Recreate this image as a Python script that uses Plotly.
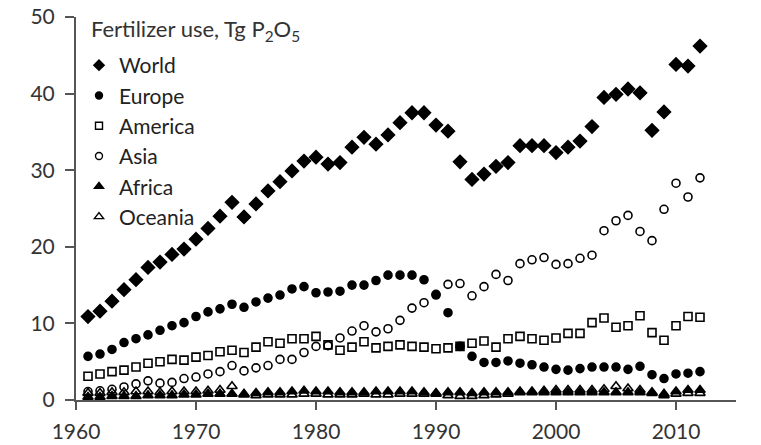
import plotly.graph_objects as go

years = list(range(1961, 2013))

world = [10.9, 11.6, 12.9, 14.4, 15.7, 17.3, 18.0, 19.0, 19.7, 21.0,
         22.4, 24.0, 25.8, 23.9, 25.6, 27.3, 28.5, 29.9, 31.2, 31.7,
         30.8, 31.0, 33.0, 34.3, 33.4, 34.6, 36.2, 37.5, 37.5, 35.9,
         35.1, 31.1, 28.8, 29.5, 30.5, 31.0, 33.2, 33.2, 33.2, 32.3,
         33.0, 33.8, 35.7, 39.5, 39.9, 40.6, 40.1, 35.2, 37.6, 43.8,
         43.6, 46.2]

europe = [5.7, 6.0, 6.6, 7.5, 8.0, 8.5, 9.1, 9.7, 10.1, 10.9,
          11.5, 11.9, 12.5, 12.1, 12.8, 13.3, 13.7, 14.5, 14.8, 14.0,
          14.1, 14.2, 15.0, 15.0, 15.6, 16.3, 16.3, 16.3, 15.7, 13.7,
          11.4, 7.0, 5.7, 4.9, 4.9, 5.1, 4.8, 4.6, 4.3, 4.0,
          3.9, 4.1, 4.3, 4.3, 4.3, 4.0, 4.4, 3.3, 2.8, 3.4,
          3.5, 3.7]

america = [3.1, 3.4, 3.7, 3.9, 4.3, 4.8, 5.0, 5.3, 5.2, 5.6,
           5.8, 6.3, 6.5, 6.2, 6.9, 7.6, 7.4, 8.0, 8.0, 8.3,
           7.2, 6.5, 6.9, 7.6, 6.8, 7.0, 7.2, 7.0, 6.9, 6.7,
           6.8, 7.0, 7.4, 7.7, 6.9, 8.0, 8.3, 8.0, 7.8, 8.1,
           8.7, 8.7, 10.1, 10.7, 9.5, 9.7, 11.0, 8.8, 7.8, 9.7,
           10.9, 10.8]

asia = [1.1, 1.2, 1.4, 1.7, 2.1, 2.5, 2.2, 2.3, 2.8, 3.0,
        3.4, 3.7, 4.5, 3.8, 4.2, 4.5, 5.3, 5.3, 6.2, 7.0,
        7.1, 8.1, 9.0, 9.7, 8.9, 9.3, 10.4, 12.0, 12.7, 13.8,
        15.1, 15.2, 13.6, 14.8, 16.4, 15.6, 17.8, 18.3, 18.6, 17.7,
        17.8, 18.5, 18.9, 22.1, 23.4, 24.1, 22.0, 20.8, 24.9, 28.3,
        26.5, 29.0]

africa = [0.4, 0.4, 0.5, 0.5, 0.5, 0.6, 0.6, 0.6, 0.7, 0.7,
          0.8, 0.8, 0.8, 0.8, 0.9, 1.0, 1.0, 1.1, 1.2, 1.1,
          1.1, 1.0, 1.0, 1.0, 1.1, 1.1, 1.1, 1.1, 1.0, 0.8,
          1.0, 1.0, 0.9, 1.0, 1.0, 1.0, 1.0, 1.0, 1.0, 1.0,
          1.0, 1.0, 1.0, 1.0, 1.0, 1.0, 1.0, 1.0, 0.8, 1.1,
          1.3, 1.3]

oceania = [0.9, 0.9, 1.0, 1.0, 1.1, 1.1, 1.0, 1.1, 1.1, 1.1,
           1.2, 1.3, 1.8, 0.7, 0.6, 0.7, 0.7, 0.7, 0.8, 0.8,
           0.7, 0.7, 0.7, 0.8, 0.7, 0.7, 0.8, 0.8, 0.8, 0.9,
           0.6, 0.5, 0.5, 0.6, 0.7, 0.8, 1.1, 1.1, 1.2, 1.3,
           1.3, 1.3, 1.3, 1.4, 1.8, 1.5, 1.3, 0.9, 0.6, 0.8,
           0.9, 0.9]

x_ticks = [1960, 1970, 1980, 1990, 2000, 2010]
y_ticks = [0, 10, 20, 30, 40, 50]

series = [
    ("World", world, "diamond", 10, 8),
    ("Europe", europe, "circle", 8, 7),
    ("America", america, "square-open", 8, 7),
    ("Asia", asia, "circle-open", 8, 7),
    ("Africa", africa, "triangle-up", 9, 8),
    ("Oceania", oceania, "triangle-up-open", 9, 8),
]

INK = "#000000"
TXT = "#333333"

fig = go.Figure()
for i, (name, vals, sym, size, lsize) in enumerate(series):
    fig.add_trace(go.Scatter(
        x=years, y=vals, mode="markers", name=name, showlegend=False,
        legendgroup=f"g{i}",
        marker=dict(symbol=sym, size=size, color=INK,
                    line=dict(color=INK, width=1.6)),
    ))
for i, (name, vals, sym, size, lsize) in enumerate(series):
    fig.add_trace(go.Scatter(
        x=[None], y=[None], mode="markers", name=name, showlegend=True,
        legendgroup=f"g{i}",
        marker=dict(symbol=sym, size=lsize, color=INK,
                    line=dict(color=INK, width=1.4)),
    ))

font_family = "Lato, 'Open Sans', sans-serif"

# plot area: left 76, right 736, top 17, bottom 400
def px_x(p):
    return (p - 76) / 660.0

def px_y(p):
    return (400 - p) / 383.0

fig.add_annotation(
    text="Fertilizer use, Tg P<sub>2</sub>O<sub>5</sub>",
    xref="paper", yref="paper", x=px_x(89), y=px_y(13),
    xanchor="left", yanchor="top", showarrow=False,
    font=dict(family=font_family, size=22, color=TXT),
)

fig.update_layout(
    width=761, height=445,
    margin=dict(l=76, r=25, t=17, b=45),
    paper_bgcolor="white", plot_bgcolor="white",
    font=dict(family=font_family, size=21, color=TXT),
    showlegend=True,
    legend=dict(
        x=px_x(79), y=px_y(45), xanchor="left", yanchor="top",
        font=dict(size=21, color="#222222"),
        bgcolor="rgba(0,0,0,0)",
        tracegroupgap=0,
        itemwidth=30,
    ),
    xaxis=dict(
        range=[1960, 2015], tickvals=x_ticks, automargin=False,
        showgrid=False, zeroline=False, showline=True,
        linecolor="#555555", linewidth=2, ticks="outside", ticklen=8,
        tickcolor="#555555", tickwidth=1.5, ticklabelstandoff=4,
        tickfont=dict(size=21, color=TXT),
    ),
    yaxis=dict(
        range=[0, 50], tickvals=y_ticks, automargin=False,
        showgrid=False, zeroline=False, showline=True,
        linecolor="#555555", linewidth=2, ticks="outside", ticklen=9,
        tickcolor="#555555", tickwidth=1.5, ticklabelstandoff=6,
        tickfont=dict(size=21, color=TXT),
    ),
)

fig.write_html("out.html")
